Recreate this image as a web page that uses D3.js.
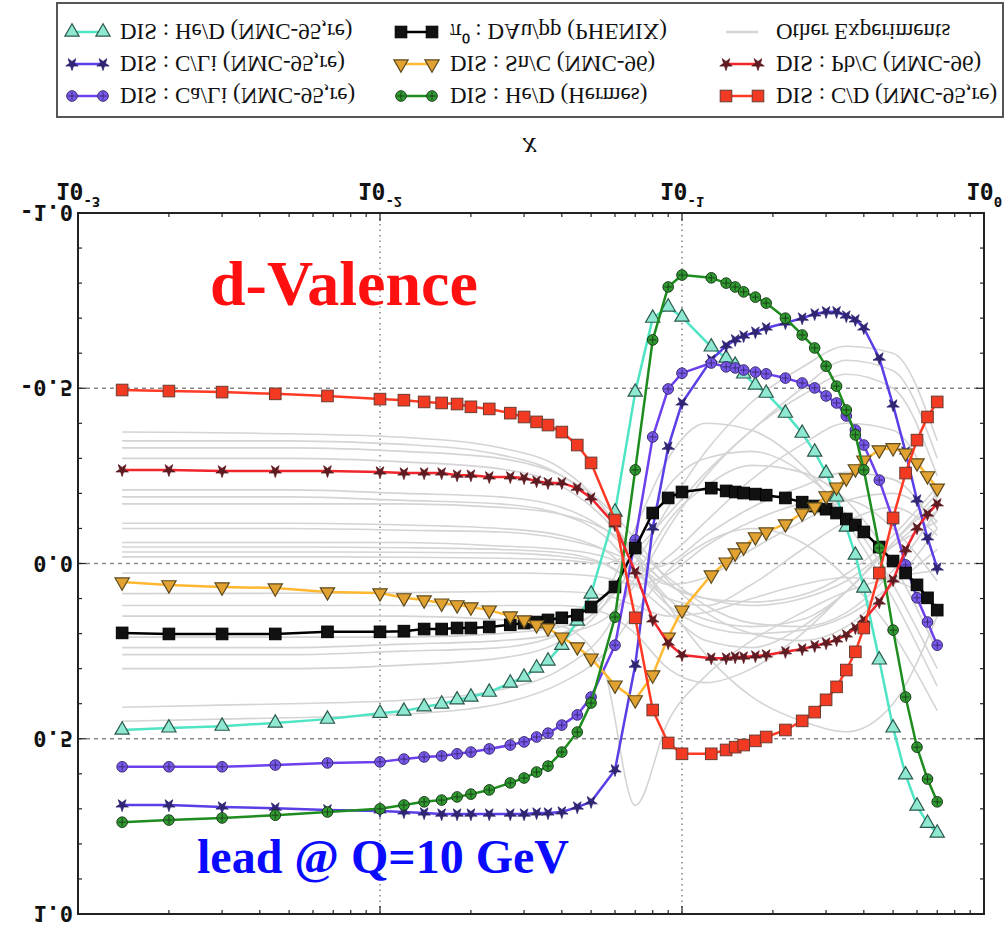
<!DOCTYPE html>
<html>
<head>
<meta charset="utf-8">
<script src="https://cdn.jsdelivr.net/npm/d3@7"></script>
<style>
  html, body { margin: 0; padding: 0; background: #fff; }
  svg { display: block; }
</style>
</head>
<body>
<svg id="chart" width="1006" height="926"></svg>
<script>
// ---- x points shared by every nuclear-ratio curve ----
const xGrid = [0.0014,0.002,0.003,0.0045,0.0067,0.01,0.012,0.014,0.016,0.018,0.02,0.023,0.027,0.03,0.033,0.036,
  0.04,0.045,0.05,0.06,0.07,0.08,0.09,0.1,0.125,0.14,0.15,0.16,0.175,0.19,0.22,0.25,0.275,0.3,0.325,0.35,0.375,0.4,
  0.45,0.5,0.55,0.6,0.65,0.7];

// ---- highlighted data sets ----
const heD_NMC = [0.475,0.469,0.464,0.455,0.444,0.427,0.421,0.409,0.401,0.389,0.381,0.367,0.341,0.324,0.298,0.278,
  0.233,0.164,0.087,-0.147,-0.489,-0.700,-0.732,-0.703,-0.618,-0.586,-0.566,-0.541,-0.509,-0.486,-0.429,-0.372,
  -0.318,-0.258,-0.190,-0.104,-0.024,0.070,0.275,0.469,0.603,0.692,0.741,0.769];
const cLi_NMC = [0.689,0.689,0.695,0.698,0.703,0.706,0.709,0.712,0.715,0.715,0.715,0.715,0.715,0.715,0.712,0.712,
  0.709,0.695,0.680,0.589,0.290,-0.101,-0.332,-0.458,-0.581,-0.621,-0.638,-0.649,-0.660,-0.672,-0.686,-0.700,
  -0.712,-0.718,-0.718,-0.706,-0.695,-0.672,-0.586,-0.452,-0.318,-0.181,-0.073,0.013];
const caLi_NMC = [0.580,0.580,0.580,0.575,0.569,0.566,0.558,0.552,0.549,0.543,0.538,0.529,0.518,0.509,0.495,0.484,
  0.461,0.432,0.381,0.233,-0.067,-0.361,-0.498,-0.543,-0.572,-0.561,-0.558,-0.552,-0.546,-0.541,-0.529,-0.515,
  -0.501,-0.478,-0.458,-0.421,-0.381,-0.338,-0.238,-0.124,0.004,0.098,0.167,0.233];
const pi0_dAu = [0.198,0.201,0.201,0.201,0.195,0.195,0.193,0.187,0.187,0.184,0.184,0.181,0.175,0.170,0.167,0.161,
  0.155,0.147,0.124,0.067,-0.044,-0.144,-0.187,-0.204,-0.215,-0.207,-0.204,-0.201,-0.198,-0.195,-0.187,-0.175,
  -0.164,-0.155,-0.144,-0.127,-0.110,-0.090,-0.047,-0.007,0.027,0.061,0.098,0.133];
const snC_NMC = [0.053,0.061,0.067,0.070,0.081,0.084,0.098,0.104,0.113,0.118,0.124,0.133,0.150,0.161,0.175,0.184,
  0.210,0.238,0.270,0.347,0.389,0.318,0.210,0.133,0.033,-0.004,-0.030,-0.047,-0.076,-0.090,-0.113,-0.144,
  -0.161,-0.193,-0.218,-0.244,-0.270,-0.295,-0.324,-0.330,-0.315,-0.287,-0.250,-0.215];
const heD_Hermes = [0.738,0.732,0.726,0.718,0.709,0.700,0.689,0.680,0.675,0.666,0.658,0.646,0.626,0.612,0.595,0.578,
  0.538,0.481,0.398,0.153,-0.267,-0.638,-0.789,-0.823,-0.815,-0.800,-0.789,-0.775,-0.760,-0.743,-0.700,-0.652,
  -0.615,-0.563,-0.506,-0.438,-0.367,-0.267,-0.044,0.190,0.381,0.524,0.615,0.680];
const pbC_NMC = [-0.267,-0.267,-0.264,-0.264,-0.264,-0.261,-0.258,-0.258,-0.258,-0.252,-0.252,-0.247,-0.247,-0.244,
  -0.235,-0.230,-0.230,-0.215,-0.187,-0.110,0.024,0.161,0.227,0.261,0.270,0.270,0.267,0.267,0.264,0.261,0.252,
  0.244,0.235,0.227,0.218,0.204,0.184,0.161,0.110,0.047,-0.039,-0.101,-0.141,-0.170];
const cD_NMC = [-0.495,-0.492,-0.489,-0.484,-0.478,-0.469,-0.466,-0.461,-0.458,-0.455,-0.447,-0.441,-0.429,-0.418,
  -0.404,-0.395,-0.375,-0.338,-0.287,-0.124,0.155,0.418,0.512,0.543,0.543,0.532,0.524,0.518,0.506,0.495,0.475,
  0.449,0.424,0.389,0.352,0.304,0.252,0.184,0.027,-0.130,-0.258,-0.352,-0.418,-0.461];

// ---- remaining experiments (background curves) ----
const grayX = [0.0014,0.005,0.012,0.025,0.04,0.055,0.07,0.09,0.12,0.17,0.25,0.35,0.5,0.7];
const otherExperiments = [
  [-0.375,-0.37,-0.36,-0.33,-0.27,-0.16,-0.02,0.10,0.16,0.18,0.16,0.08,-0.06,-0.20],
  [-0.35,-0.35,-0.34,-0.31,-0.25,-0.15,-0.03,0.06,0.10,0.11,0.09,0.03,-0.08,-0.22],
  [-0.33,-0.33,-0.32,-0.30,-0.25,-0.17,-0.07,0.05,0.14,0.20,0.22,0.18,0.06,-0.10],
  [-0.30,-0.30,-0.29,-0.27,-0.22,-0.13,-0.02,0.12,0.26,0.38,0.45,0.48,0.40,0.15],
  [-0.21,-0.21,-0.20,-0.19,-0.16,-0.10,-0.02,0.06,0.10,0.12,0.10,0.05,-0.05,-0.12],
  [-0.19,-0.19,-0.18,-0.17,-0.14,-0.08,0.02,0.12,0.18,0.20,0.19,0.15,0.06,-0.04],
  [-0.17,-0.17,-0.17,-0.16,-0.14,-0.10,-0.04,0.04,0.12,0.17,0.18,0.14,0.02,-0.15],
  [-0.115,-0.115,-0.11,-0.10,-0.08,-0.04,0.02,0.00,-0.08,-0.16,-0.22,-0.26,-0.24,-0.10],
  [-0.10,-0.10,-0.095,-0.09,-0.07,-0.04,0.00,0.06,0.04,-0.04,-0.12,-0.18,-0.20,-0.12],
  [-0.06,-0.06,-0.06,-0.05,-0.04,-0.02,0.02,0.10,0.12,0.06,-0.04,-0.12,-0.16,-0.08],
  [-0.047,-0.047,-0.045,-0.04,-0.03,0.00,0.06,0.14,0.22,0.24,0.18,0.08,-0.06,-0.18],
  [-0.033,-0.033,-0.032,-0.03,-0.02,0.00,0.04,-0.02,-0.12,-0.24,-0.34,-0.40,-0.38,-0.18],
  [-0.019,-0.019,-0.018,-0.015,-0.01,0.00,-0.04,-0.14,-0.26,-0.38,-0.50,-0.58,-0.55,-0.30],
  [0.027,0.027,0.027,0.027,0.03,0.04,0.06,0.03,-0.05,-0.12,-0.17,-0.18,-0.10,0.05],
  [0.086,0.085,0.083,0.08,0.08,0.09,0.12,0.15,0.14,0.10,0.06,0.04,0.05,0.12],
  [0.12,0.12,0.12,0.12,0.12,0.14,0.20,0.30,0.34,0.30,0.20,0.08,-0.05,-0.15],
  [0.15,0.15,0.15,0.16,0.18,0.30,0.69,0.45,0.32,0.22,0.14,0.08,0.04,0.02],
  [0.21,0.21,0.21,0.20,0.18,0.12,0.00,-0.16,-0.32,-0.46,-0.56,-0.62,-0.60,-0.35],
  [0.24,0.24,0.23,0.22,0.20,0.16,0.06,-0.10,-0.25,-0.38,-0.48,-0.54,-0.50,-0.25],
  [0.26,0.26,0.25,0.24,0.20,0.10,-0.10,-0.30,-0.40,-0.38,-0.28,-0.12,0.10,0.35],
  [0.30,0.30,0.29,0.27,0.22,0.12,-0.05,-0.22,-0.30,-0.32,-0.26,-0.14,0.06,0.30],
  [0.41,0.40,0.39,0.36,0.30,0.20,0.04,-0.12,-0.22,-0.28,-0.26,-0.18,0.00,0.25],
  [0.45,0.44,0.43,0.40,0.34,0.26,0.14,0.02,-0.06,-0.10,-0.06,0.04,0.20,0.42]
];

// ---- axis labels ----
const xTickValues = [0.001, 0.01, 0.1, 1];
const xTickBase = ["10", "10", "10", "10"];
const xTickExp = ["-3", "-2", "-1", "0"];
const yTickValues = [-1, -0.5, 0, 0.5, 1];
const yTickLabels = ["-1.0", "-0.5", "0.0", "0.5", "1.0"];
const xTitle = "x";
const otherLabel = "Other Experiments";

const series = [
  { label: "DIS : He/D (NMC-95,re)",  values: heD_NMC,    line: "#4ee4c4", fill: "#8ee8d2", stroke: "#2b5a4c", marker: "triUp" },
  { label: "DIS : C/Li (NMC-95,re)",  values: cLi_NMC,    line: "#5a3ee6", fill: "#2e2672", stroke: "#2e2672", marker: "star" },
  { label: "DIS : Ca/Li (NMC-95,re)", values: caLi_NMC,   line: "#6d40ee", fill: "#7a58ee", stroke: "#33286a", marker: "circ" },
  { label: "π⁰ : DAu/pp (PHENIX)",    values: pi0_dAu,    line: "#000000", fill: "#111111", stroke: "#000000", marker: "square" },
  { label: "DIS : Sn/C (NMC-96)",     values: snC_NMC,    line: "#ffb830", fill: "#e2a232", stroke: "#5c4a1e", marker: "triDown" },
  { label: "DIS : He/D (Hermes)",     values: heD_Hermes, line: "#1e8c1e", fill: "#2f9a2f", stroke: "#183818", marker: "circ" },
  { label: "DIS : Pb/C (NMC-96)",     values: pbC_NMC,    line: "#f0262c", fill: "#5e1c22", stroke: "#5e1c22", marker: "star" },
  { label: "DIS : C/D (NMC-95,re)",   values: cD_NMC,     line: "#ff3a24", fill: "#f23a22", stroke: "#6a3a30", marker: "square" }
];

const W = 1006, H = 926;
const svg = d3.select("#chart");

// The figure itself is drawn mirrored top-to-bottom
const fig = svg.append("g").attr("transform", `translate(0,${H}) scale(1,-1)`);

const x = d3.scaleLog().domain([1e-3, 1]).range([78, 984]);
const y = d3.scaleLinear().domain([-1, 1]).range([713, 12]);

const monoFont = "'DejaVu Sans Mono', monospace";
const serifFont = "'Liberation Serif', 'Times New Roman', serif";

// grid
fig.append("g").selectAll("line").data([-0.5, 0, 0.5]).join("line")
  .attr("x1", x(1e-3)).attr("x2", x(1)).attr("y1", d => y(d)).attr("y2", d => y(d))
  .attr("stroke", "#8a8a8a").attr("stroke-width", 1.3).attr("stroke-dasharray", "4,4");
fig.append("g").selectAll("line").data([0.01, 0.1]).join("line")
  .attr("x1", d => x(d)).attr("x2", d => x(d)).attr("y1", y(-1)).attr("y2", y(1))
  .attr("stroke", "#8a8a8a").attr("stroke-width", 1.6).attr("stroke-dasharray", "1.5,4");

// background experiments
const grayLine = d3.line().x((d, i) => x(grayX[i])).y(d => y(d)).curve(d3.curveMonotoneX);
fig.append("g").selectAll("path").data(otherExperiments).join("path")
  .attr("d", d => grayLine(d)).attr("fill", "none")
  .attr("stroke", "#d4d4d4").attr("stroke-width", 1.6);

// marker shapes
function drawMarker(g, s) {
  if (s.marker === "square") {
    g.append("rect").attr("x", -5.8).attr("y", -5.8).attr("width", 11.6).attr("height", 11.6)
      .attr("fill", s.fill).attr("stroke", s.stroke).attr("stroke-width", 1);
  } else if (s.marker === "triUp" || s.marker === "triDown") {
    g.append("path").attr("d", d3.symbol(d3.symbolTriangle, 88)())
      .attr("transform", s.marker === "triUp" ? "rotate(180)" : null)
      .attr("fill", s.fill).attr("stroke", s.stroke).attr("stroke-width", 1.2);
  } else if (s.marker === "star") {
    g.append("path").attr("d", d3.symbol(d3.symbolStar, 48)())
      .attr("fill", s.fill).attr("stroke", s.stroke).attr("stroke-width", 0.8);
  } else if (s.marker === "circ") {
    g.append("circle").attr("r", 5.3).attr("fill", s.fill).attr("stroke", s.stroke).attr("stroke-width", 1);
    g.append("path").attr("d", "M-3.7,0H3.7M0,-3.7V3.7").attr("stroke", s.stroke).attr("stroke-width", 0.9);
  }
}

// highlighted curves
const curve = d3.line().x((d, i) => x(xGrid[i])).y(d => y(d));
series.forEach(s => {
  const g = fig.append("g");
  g.append("path").attr("d", curve(s.values)).attr("fill", "none")
    .attr("stroke", s.line).attr("stroke-width", 2.5).attr("stroke-linejoin", "round");
  g.selectAll("g.pt").data(s.values).join("g").attr("class", "pt")
    .attr("transform", (d, i) => `translate(${x(xGrid[i])},${y(d)})`)
    .each(function () { drawMarker(d3.select(this), s); });
});

// frame and ticks
fig.append("rect").attr("x", x(1e-3)).attr("y", y(1)).attr("width", x(1) - x(1e-3)).attr("height", y(-1) - y(1))
  .attr("fill", "none").attr("stroke", "#222").attr("stroke-width", 2);
const ticksG = fig.append("g").attr("stroke", "#222").attr("stroke-width", 1.2);
x.ticks().forEach(t => {
  const major = xTickValues.some(v => Math.abs(v - t) < 1e-12);
  const len = major ? 8 : 4;
  ticksG.append("line").attr("x1", x(t)).attr("x2", x(t)).attr("y1", y(-1)).attr("y2", y(-1) - len);
  ticksG.append("line").attr("x1", x(t)).attr("x2", x(t)).attr("y1", y(1)).attr("y2", y(1) + len);
});
y.ticks(20).forEach(t => {
  const major = yTickValues.some(v => Math.abs(v - t) < 1e-9);
  const len = major ? 8 : 4;
  ticksG.append("line").attr("x1", x(1e-3)).attr("x2", x(1e-3) + len).attr("y1", y(t)).attr("y2", y(t));
  ticksG.append("line").attr("x1", x(1)).attr("x2", x(1) - len).attr("y1", y(t)).attr("y2", y(t));
});

// tick labels
xTickValues.forEach((v, i) => {
  const t = fig.append("text").attr("x", x(v)).attr("y", y(-1) + 30)
    .attr("text-anchor", "middle").attr("font-family", monoFont).attr("font-weight", "bold")
    .attr("font-size", 23).attr("fill", "#111");
  t.append("tspan").text(xTickBase[i]);
  t.append("tspan").attr("dy", -14).attr("font-size", 14).text(xTickExp[i]);
});
yTickValues.forEach((v, i) => {
  fig.append("text").attr("x", x(1e-3) - 5).attr("y", y(v)).attr("dy", "0.36em")
    .attr("text-anchor", "end").attr("font-family", monoFont).attr("font-weight", "bold")
    .attr("font-size", 22).attr("fill", "#111").text(yTickLabels[i]);
});
fig.append("text").attr("x", 530).attr("y", 788).attr("text-anchor", "middle")
  .attr("font-family", serifFont).attr("font-style", "italic").attr("font-size", 30)
  .attr("fill", "#111").text(xTitle);

// legend
const leg = fig.append("g");
leg.append("rect").attr("x", 57).attr("y", 809).attr("width", 946).attr("height", 114)
  .attr("fill", "#fff").attr("stroke", "#555").attr("stroke-width", 2);
const rowsY = [894, 862, 830];
const cols = [{ x0: 72, x1: 103, tx: 120 }, { x0: 401, x1: 432, tx: 450 }, { x0: 726, x1: 758, tx: 776 }];
const legendItems = [
  { col: 0, row: 0, s: series[0] }, { col: 0, row: 1, s: series[1] }, { col: 0, row: 2, s: series[2] },
  { col: 1, row: 0, s: series[3] }, { col: 1, row: 1, s: series[4] }, { col: 1, row: 2, s: series[5] },
  { col: 2, row: 0, s: null },      { col: 2, row: 1, s: series[6] }, { col: 2, row: 2, s: series[7] }
];
legendItems.forEach(it => {
  const c = cols[it.col], ry = rowsY[it.row];
  const g = leg.append("g");
  if (it.s) {
    g.append("line").attr("x1", c.x0).attr("x2", c.x1).attr("y1", ry).attr("y2", ry)
      .attr("stroke", it.s.line).attr("stroke-width", 2.5);
    [c.x0, c.x1].forEach(px => drawMarker(g.append("g").attr("transform", `translate(${px},${ry})`), it.s));
  } else {
    g.append("line").attr("x1", c.x0).attr("x2", c.x1).attr("y1", ry).attr("y2", ry)
      .attr("stroke", "#d4d4d4").attr("stroke-width", 2.5);
  }
  g.append("text").attr("x", c.tx).attr("y", ry).attr("dy", "0.33em")
    .attr("font-family", serifFont).attr("font-size", 23).attr("fill", "#111")
    .text(it.s ? it.s.label : otherLabel);
});

// annotations
svg.append("text").attr("x", 210).attr("y", 305)
  .attr("font-family", serifFont).attr("font-weight", "bold").attr("font-size", 64)
  .attr("fill", "#ff1010").text("d-Valence");
svg.append("text").attr("x", 197).attr("y", 873)
  .attr("font-family", serifFont).attr("font-weight", "bold").attr("font-size", 48)
  .attr("fill", "#0a0aff").text("lead @ Q=10 GeV");
</script>
</body>
</html>
